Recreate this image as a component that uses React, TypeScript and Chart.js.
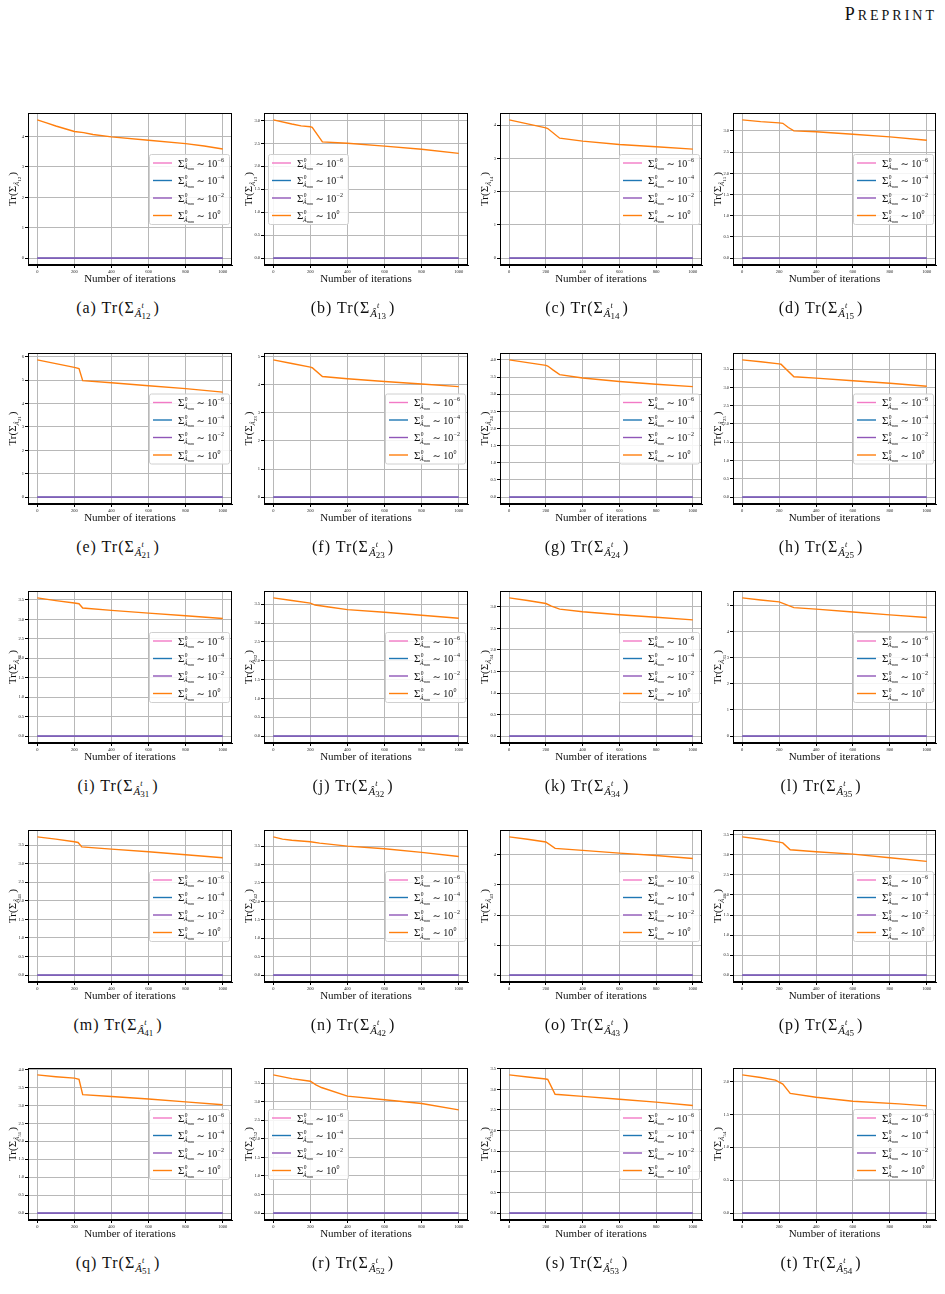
import React, { useEffect, useRef } from 'react';
import { Chart, registerables } from 'chart.js';
Chart.register(...registerables);

// ---------- data ----------
const iterationTicks = [0, 200, 400, 600, 800, 1000];
const zeroIters = [0, 1000];
const zeroVals = [0, 0];
const legendExponents = ['−6', '−4', '−2', '0'];
const seriesColors = ['#f27ac6', '#1f77b4', '#9056b8', '#ff7f0e'];

const a_iter = [0, 50, 100, 150, 200, 250, 300, 400, 600, 800, 900, 1000];
const a_tr = [4.55, 4.45, 4.35, 4.26, 4.17, 4.13, 4.07, 3.99, 3.88, 3.77, 3.69, 3.59];
const b_iter = [0, 100, 150, 200, 210, 265, 400, 600, 800, 1000];
const b_tr = [3.01, 2.92, 2.88, 2.86, 2.85, 2.53, 2.5, 2.44, 2.37, 2.28];
const c_iter = [0, 100, 200, 210, 275, 400, 600, 800, 1000];
const c_tr = [4.16, 4.04, 3.92, 3.9, 3.61, 3.52, 3.42, 3.35, 3.28];
const d_iter = [0, 100, 200, 220, 250, 280, 400, 600, 800, 1000];
const d_tr = [3.26, 3.22, 3.19, 3.18, 3.08, 3.0, 2.98, 2.92, 2.86, 2.78];
const e_iter = [0, 100, 200, 225, 245, 400, 600, 800, 1000];
const e_tr = [5.87, 5.71, 5.55, 5.5, 4.98, 4.89, 4.76, 4.64, 4.49];
const f_iter = [0, 100, 200, 210, 265, 400, 600, 800, 1000];
const f_tr = [4.88, 4.75, 4.62, 4.6, 4.29, 4.21, 4.11, 4.02, 3.93];
const g_iter = [0, 100, 200, 210, 240, 275, 400, 600, 800, 1000];
const g_tr = [4.0, 3.92, 3.84, 3.82, 3.7, 3.57, 3.47, 3.37, 3.29, 3.22];
const h_iter = [0, 100, 200, 210, 280, 400, 600, 800, 1000];
const h_tr = [3.75, 3.7, 3.64, 3.63, 3.29, 3.25, 3.18, 3.11, 3.03];
const i_iter = [0, 100, 200, 225, 245, 400, 600, 800, 1000];
const i_tr = [3.55, 3.48, 3.42, 3.4, 3.29, 3.23, 3.16, 3.09, 3.02];
const j_iter = [0, 100, 200, 225, 300, 400, 600, 800, 1000];
const j_tr = [3.67, 3.6, 3.53, 3.48, 3.43, 3.36, 3.29, 3.21, 3.13];
const k_iter = [0, 100, 200, 230, 275, 400, 600, 800, 1000];
const k_tr = [3.21, 3.15, 3.08, 3.02, 2.95, 2.89, 2.82, 2.76, 2.7];
const l_iter = [0, 100, 200, 280, 400, 600, 800, 1000];
const l_tr = [5.28, 5.2, 5.13, 4.91, 4.85, 4.74, 4.63, 4.53];
const m_iter = [0, 100, 200, 220, 240, 400, 600, 800, 1000];
const m_tr = [3.72, 3.66, 3.59, 3.57, 3.45, 3.39, 3.32, 3.24, 3.16];
const n_iter = [0, 50, 100, 200, 250, 400, 600, 800, 1000];
const n_tr = [3.75, 3.69, 3.66, 3.62, 3.58, 3.5, 3.43, 3.33, 3.22];
const o_iter = [0, 100, 200, 250, 400, 600, 800, 1000];
const o_tr = [4.6, 4.52, 4.43, 4.22, 4.15, 4.06, 3.98, 3.88];
const p_iter = [0, 100, 200, 220, 260, 400, 600, 800, 1000];
const p_tr = [3.45, 3.39, 3.32, 3.3, 3.13, 3.08, 3.02, 2.93, 2.84];
const q_iter = [0, 100, 200, 225, 245, 400, 600, 800, 1000];
const q_tr = [3.85, 3.8, 3.76, 3.73, 3.3, 3.25, 3.18, 3.1, 3.02];
const r_iter = [0, 100, 200, 230, 260, 400, 600, 800, 1000];
const r_tr = [3.72, 3.62, 3.55, 3.45, 3.38, 3.15, 3.05, 2.95, 2.78];
const s_iter = [0, 100, 200, 210, 250, 400, 600, 800, 1000];
const s_tr = [3.35, 3.3, 3.25, 3.24, 2.88, 2.83, 2.76, 2.69, 2.61];
const t_iter = [0, 100, 180, 220, 260, 400, 600, 850, 1000];
const t_tr = [2.1, 2.06, 2.02, 1.96, 1.82, 1.76, 1.7, 1.66, 1.63];

type PanelDef = { key: string; sub: string; x: number[]; y: number[]; step: number; side: 'left' | 'right' };

const panels: PanelDef[] = [
  { key: 'a', sub: '12', x: a_iter, y: a_tr, step: 1, side: 'right' },
  { key: 'b', sub: '13', x: b_iter, y: b_tr, step: 0.5, side: 'left' },
  { key: 'c', sub: '14', x: c_iter, y: c_tr, step: 1, side: 'right' },
  { key: 'd', sub: '15', x: d_iter, y: d_tr, step: 0.5, side: 'right' },
  { key: 'e', sub: '21', x: e_iter, y: e_tr, step: 1, side: 'right' },
  { key: 'f', sub: '23', x: f_iter, y: f_tr, step: 1, side: 'right' },
  { key: 'g', sub: '24', x: g_iter, y: g_tr, step: 0.5, side: 'right' },
  { key: 'h', sub: '25', x: h_iter, y: h_tr, step: 0.5, side: 'right' },
  { key: 'i', sub: '31', x: i_iter, y: i_tr, step: 0.5, side: 'right' },
  { key: 'j', sub: '32', x: j_iter, y: j_tr, step: 0.5, side: 'right' },
  { key: 'k', sub: '34', x: k_iter, y: k_tr, step: 0.5, side: 'right' },
  { key: 'l', sub: '35', x: l_iter, y: l_tr, step: 1, side: 'right' },
  { key: 'm', sub: '41', x: m_iter, y: m_tr, step: 0.5, side: 'right' },
  { key: 'n', sub: '42', x: n_iter, y: n_tr, step: 0.5, side: 'right' },
  { key: 'o', sub: '43', x: o_iter, y: o_tr, step: 1, side: 'right' },
  { key: 'p', sub: '45', x: p_iter, y: p_tr, step: 0.5, side: 'right' },
  { key: 'q', sub: '51', x: q_iter, y: q_tr, step: 0.5, side: 'right' },
  { key: 'r', sub: '52', x: r_iter, y: r_tr, step: 0.5, side: 'left' },
  { key: 's', sub: '53', x: s_iter, y: s_tr, step: 0.5, side: 'right' },
  { key: 't', sub: '54', x: t_iter, y: t_tr, step: 0.5, side: 'right' },
];

// ---------- layout ----------
const colLeft = [28, 264, 500, 733];
const colRight = [232, 468, 702, 936];
const rowTop = [113, 353, 591, 830, 1068];
const rowBottom = [265, 504, 743, 982, 1220];
const captionCx = [118, 353, 587, 821];
const SERIF = '"Liberation Serif", "DejaVu Serif", serif';

function drawLegendLabel(ctx: CanvasRenderingContext2D, x: number, y: number, exp: string) {
  ctx.fillStyle = '#111';
  ctx.textAlign = 'left';
  ctx.textBaseline = 'alphabetic';
  ctx.font = `11px ${SERIF}`;
  ctx.fillText('Σ', x, y + 3.5);
  const ws = ctx.measureText('Σ').width;
  ctx.font = `5.5px ${SERIF}`;
  ctx.fillText('0', x + ws + 0.3, y - 1.5);
  ctx.font = `italic 6px ${SERIF}`;
  ctx.fillText('Â', x + ws - 0.3, y + 6);
  const wa = ctx.measureText('Â').width;
  ctx.font = `4px ${SERIF}`;
  ctx.fillText('mm', x + ws - 0.3 + wa, y + 7.2);
  const x2 = x + ws + 12;
  ctx.font = `10px ${SERIF}`;
  ctx.fillText('∼ 10', x2, y + 3.5);
  const w2 = ctx.measureText('∼ 10').width;
  ctx.font = `6px ${SERIF}`;
  ctx.fillText(exp, x2 + w2 + 0.3, y - 1.2);
}

function Panel({ p, col, row }: { p: PanelDef; col: number; row: number }) {
  const ref = useRef<HTMLCanvasElement>(null);
  const L = 28, T = 8, R = 8, B = 22;
  const left = colLeft[col] - L;
  const top = rowTop[row] - T;
  const w = colRight[col] - colLeft[col] + L + R;
  const h = rowBottom[row] - rowTop[row] + T + B;

  useEffect(() => {
    if (!ref.current) return;
    const ymaxData = Math.max(...p.y);
    const yMin = -0.05 * ymaxData;
    const yMax = ymaxData * 1.05;
    const yTicks: number[] = [];
    for (let v = 0; v <= yMax + 1e-9; v += p.step) yTicks.push(Math.round(v * 100) / 100);

    const decor = {
      id: 'decor' + p.key,
      afterDraw(chart: any) {
        const ctx: CanvasRenderingContext2D = chart.ctx;
        const a = chart.chartArea;
        ctx.save();
        // frame
        ctx.strokeStyle = '#000';
        ctx.lineWidth = 1;
        ctx.strokeRect(a.left + 0.5, a.top + 0.5, a.right - a.left - 1, a.bottom - a.top - 1);
        // legend
        const bw = 80, bh = 70;
        const bx = p.side === 'right' ? a.right - 3 - bw : a.left + 4;
        const by = (a.top + a.bottom) / 2 - bh / 2;
        ctx.fillStyle = 'rgba(255,255,255,0.85)';
        ctx.strokeStyle = '#d0d0d0';
        ctx.lineWidth = 1;
        ctx.beginPath();
        (ctx as any).roundRect(bx + 0.5, by + 0.5, bw, bh, 2);
        ctx.fill();
        ctx.stroke();
        for (let i = 0; i < 4; i++) {
          const ly = by + 9 + i * 17.5;
          ctx.strokeStyle = seriesColors[i];
          ctx.lineWidth = 1.4;
          ctx.beginPath();
          ctx.moveTo(bx + 4, ly);
          ctx.lineTo(bx + 23, ly);
          ctx.stroke();
          drawLegendLabel(ctx, bx + 29, ly, legendExponents[i]);
        }
        // x title
        ctx.fillStyle = '#111';
        ctx.font = `11px ${SERIF}`;
        ctx.textAlign = 'center';
        ctx.textBaseline = 'middle';
        ctx.fillText('Number of iterations', (a.left + a.right) / 2, a.bottom + 14);
        // y title (rotated)
        ctx.translate(a.left - 16, (a.top + a.bottom) / 2);
        ctx.rotate(-Math.PI / 2);
        ctx.textAlign = 'left';
        ctx.textBaseline = 'alphabetic';
        const big = `11px ${SERIF}`, mid = `italic 7px ${SERIF}`, small = `5px ${SERIF}`;
        ctx.font = big; const w1 = ctx.measureText('Tr(Σ').width;
        ctx.font = mid; const w2 = ctx.measureText('Â').width;
        ctx.font = small; const w3 = ctx.measureText(p.sub).width;
        ctx.font = big; const w4 = ctx.measureText(')').width;
        let x0 = -(w1 + w2 + w3 + w4 + 1) / 2;
        ctx.font = big; ctx.fillText('Tr(Σ', x0, 4); x0 += w1;
        ctx.font = mid; ctx.fillText('Â', x0, 7); x0 += w2;
        ctx.font = small; ctx.fillText(p.sub, x0, 9); x0 += w3 + 1;
        ctx.font = big; ctx.fillText(')', x0, 4);
        ctx.restore();
      },
    };

    const mk = (xs: number[], ys: number[]) => xs.map((x, i) => ({ x, y: ys[i] }));
    const chart = new Chart(ref.current, {
      type: 'line',
      data: {
        datasets: [
          { label: 'pink', data: mk(zeroIters, zeroVals), borderColor: seriesColors[0], order: 4 },
          { label: 'blue', data: mk(zeroIters, zeroVals), borderColor: seriesColors[1], order: 3 },
          { label: 'purple', data: mk(zeroIters, zeroVals), borderColor: seriesColors[2], order: 2 },
          { label: 'orange', data: mk(p.x, p.y), borderColor: seriesColors[3], order: 1 },
        ],
      },
      options: {
        animation: false,
        responsive: false,
        maintainAspectRatio: false,
        devicePixelRatio: 1,
        layout: { padding: { left: 0, top: T, right: R, bottom: 0 } },
        elements: { point: { radius: 0 }, line: { borderWidth: 1.4, tension: 0 } },
        plugins: { legend: { display: false }, tooltip: { enabled: false }, title: { display: false } },
        scales: {
          x: {
            type: 'linear',
            min: -50,
            max: 1050,
            afterBuildTicks: (s: any) => { s.ticks = iterationTicks.map((v) => ({ value: v })); },
            afterFit: (s: any) => { s.height = B; },
            ticks: {
              font: { size: 4.5, family: SERIF },
              color: '#222',
              padding: 1,
              maxRotation: 0,
              autoSkip: false,
              callback: (v: any) => String(Math.round(Number(v))),
            },
            grid: { color: '#b8b8b8', lineWidth: 1, tickLength: 3, tickColor: '#000', drawTicks: true },
            border: { color: '#000', width: 1 },
          },
          y: {
            type: 'linear',
            min: yMin,
            max: yMax,
            afterBuildTicks: (s: any) => { s.ticks = yTicks.map((v) => ({ value: v })); },
            afterFit: (s: any) => { s.width = L; },
            ticks: {
              font: { size: 4.5, family: SERIF },
              color: '#222',
              padding: 1,
              autoSkip: false,
              callback: (v: any) => (p.step < 1 ? Number(v).toFixed(1) : Number(v).toFixed(0)),
            },
            grid: { color: '#b8b8b8', lineWidth: 1, tickLength: 3, tickColor: '#000', drawTicks: true },
            border: { color: '#000', width: 1 },
          },
        },
      },
      plugins: [decor],
    } as any);
    return () => chart.destroy();
  }, []);

  return (
    <canvas
      ref={ref}
      width={w}
      height={h}
      style={{ position: 'absolute', left, top, width: w, height: h }}
    />
  );
}

function Caption({ p, col, row }: { p: PanelDef; col: number; row: number }) {
  return (
    <div
      style={{
        position: 'absolute',
        left: captionCx[col] - 80,
        width: 160,
        top: rowBottom[row] + 34,
        textAlign: 'center',
        fontFamily: SERIF,
        fontSize: 16,
        letterSpacing: '1px',
        lineHeight: '18px',
        color: '#111',
        whiteSpace: 'nowrap',
      }}
    >
      ({p.key}) Tr(Σ
      <span style={{ fontStyle: 'italic', fontSize: 11, position: 'relative', top: 4, letterSpacing: 0 }}>Â</span>
      <span style={{ display: 'inline-block', position: 'relative', width: 12, height: 10, letterSpacing: 0 }}>
        <span style={{ position: 'absolute', left: 0, top: -1, fontSize: 8, fontStyle: 'italic', lineHeight: '8px' }}>t</span>
        <span style={{ position: 'absolute', left: 0, top: 9, fontSize: 9, lineHeight: '9px' }}>{p.sub}</span>
      </span>
      )
    </div>
  );
}

export default function App() {
  return (
    <div style={{ position: 'absolute', left: 0, top: 0, width: 945, height: 1294, background: '#fff', overflow: 'hidden' }}>
      <div
        style={{
          position: 'absolute',
          right: 8,
          top: 4,
          fontFamily: SERIF,
          color: '#111',
          letterSpacing: '3px',
          whiteSpace: 'nowrap',
        }}
      >
        <span style={{ fontSize: 18 }}>P</span>
        <span style={{ fontSize: 14 }}>REPRINT</span>
      </div>
      {panels.map((p, idx) => {
        const col = idx % 4;
        const row = Math.floor(idx / 4);
        return (
          <React.Fragment key={p.key}>
            <Panel p={p} col={col} row={row} />
            <Caption p={p} col={col} row={row} />
          </React.Fragment>
        );
      })}
    </div>
  );
}
